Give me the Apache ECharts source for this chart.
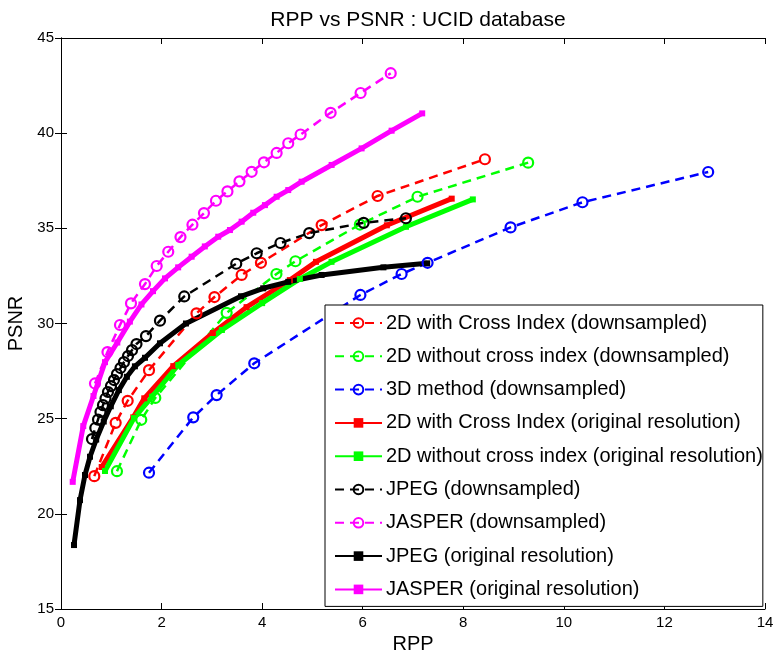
<!DOCTYPE html>
<html>
<head>
<meta charset="utf-8">
<script src="https://cdn.jsdelivr.net/npm/echarts@6/dist/echarts.min.js"></script>
<style>html,body{margin:0;padding:0;background:#fff}#c{width:774px;height:656px}</style>
</head>
<body>
<div id="c"></div>
<script>
// ---- data ----
const xTicks = [0, 2, 4, 6, 8, 10, 12, 14];
const yTicks = [15, 20, 25, 30, 35, 40, 45];

const crossDsRpp  = [0.662, 1.087, 1.326, 1.750, 2.694, 3.052, 3.592, 3.976, 5.183, 6.296, 8.43];
const crossDsPsnr = [21.98, 24.78, 25.94, 27.55, 30.53, 31.39, 32.55, 33.19, 35.17, 36.70, 38.63];

const noCrossDsRpp  = [1.113, 1.596, 1.875, 3.294, 4.284, 4.662, 5.944, 7.09, 9.29];
const noCrossDsPsnr = [22.24, 24.94, 26.09, 30.56, 32.60, 33.27, 35.20, 36.66, 38.45];

const d3DsRpp  = [1.750, 2.630, 3.095, 3.843, 5.954, 6.773, 7.290, 8.94, 10.37, 12.87];
const d3DsPsnr = [22.16, 25.07, 26.24, 27.91, 31.50, 32.60, 33.19, 35.05, 36.37, 37.96];

const crossOrRpp  = [0.809, 1.437, 1.656, 2.233, 3.02, 3.69, 4.55, 5.07, 6.48, 7.77];
const crossOrPsnr = [22.46, 25.07, 26.07, 27.76, 29.50, 30.86, 32.28, 33.24, 35.16, 36.56];

const noCrossOrRpp  = [0.875, 1.451, 1.809, 2.332, 3.20, 4.00, 4.75, 5.38, 6.86, 8.19];
const noCrossOrPsnr = [22.25, 25.03, 26.15, 27.82, 29.66, 31.07, 32.34, 33.24, 35.08, 36.52];

const jpegDsRpp  = [0.616, 0.682, 0.736, 0.785, 0.835, 0.885, 0.934, 0.994, 1.054, 1.113, 1.183, 1.252, 1.332, 1.412, 1.501, 1.690, 1.968, 2.451, 3.485, 3.891, 4.364, 4.936, 6.018, 6.859];
const jpegDsPsnr = [23.93, 24.51, 24.95, 25.35, 25.71, 26.06, 26.40, 26.71, 27.03, 27.34, 27.66, 27.97, 28.29, 28.60, 28.92, 29.34, 30.15, 31.42, 33.14, 33.69, 34.23, 34.75, 35.29, 35.53];

const jasperDsRpp  = [0.676, 0.924, 1.173, 1.392, 1.670, 1.903, 2.133, 2.376, 2.614, 2.843, 3.082, 3.310, 3.549, 3.791, 4.036, 4.288, 4.519, 4.765, 5.362, 5.958, 6.557];
const jasperDsPsnr = [26.85, 28.50, 29.92, 31.06, 32.07, 33.02, 33.77, 34.54, 35.19, 35.80, 36.45, 36.94, 37.47, 37.97, 38.47, 38.96, 39.47, 39.93, 41.07, 42.11, 43.15];

const jpegOrRpp  = [0.258, 0.378, 0.477, 0.577, 0.70, 0.85, 0.99, 1.15, 1.31, 1.47, 1.67, 1.968, 2.485, 3.579, 4.022, 4.519, 5.183, 6.412, 7.282];
const jpegOrPsnr = [18.36, 20.72, 22.04, 23.00, 23.90, 24.85, 25.65, 26.50, 27.20, 27.75, 28.20, 28.96, 30.00, 31.43, 31.85, 32.19, 32.55, 32.95, 33.16];

const jasperOrRpp  = [0.233, 0.443, 0.646, 0.875, 1.12, 1.37, 1.60, 1.83, 2.068, 2.33, 2.598, 2.86, 3.127, 3.36, 3.592, 3.823, 4.056, 4.288, 4.519, 4.785, 5.382, 5.978, 6.575, 7.183];
const jasperOrPsnr = [21.68, 24.61, 26.19, 27.97, 29.00, 30.10, 31.00, 31.70, 32.37, 32.95, 33.51, 34.05, 34.56, 34.91, 35.35, 35.82, 36.22, 36.66, 37.01, 37.45, 38.33, 39.20, 40.13, 41.04];

const seriesNames = [
  '2D with Cross Index (downsampled)',
  '2D without cross index (downsampled)',
  '3D method (downsampled)',
  '2D with Cross Index (original resolution)',
  '2D without cross index (original resolution)',
  'JPEG (downsampled)',
  'JASPER (downsampled)',
  'JPEG (original resolution)',
  'JASPER (original resolution)'
];

// ---- build ----
const FONT = 'Liberation Sans, Arial, Helvetica, sans-serif';
function zip(xs, ys) { return xs.map((x, i) => [x, ys[i]]); }
function dashed(name, xs, ys, color) {
  return {
    name, type: 'line', data: zip(xs, ys),
    symbol: 'circle', symbolSize: 10,
    lineStyle: { color, width: 2.5, type: [9, 6] },
    itemStyle: { color: 'rgba(255,255,255,0)', borderColor: color, borderWidth: 2.2 },
    emphasis: { disabled: true }, animation: false
  };
}
function solid(name, xs, ys, color) {
  return {
    name, type: 'line', data: zip(xs, ys),
    symbol: 'rect', symbolSize: 6,
    lineStyle: { color, width: 5, type: 'solid' },
    itemStyle: { color, borderWidth: 0 },
    emphasis: { disabled: true }, animation: false
  };
}

const series = [
  dashed(seriesNames[0], crossDsRpp, crossDsPsnr, '#ff0000'),
  dashed(seriesNames[1], noCrossDsRpp, noCrossDsPsnr, '#00ff00'),
  dashed(seriesNames[2], d3DsRpp, d3DsPsnr, '#0000ff'),
  solid(seriesNames[3], crossOrRpp, crossOrPsnr, '#ff0000'),
  solid(seriesNames[4], noCrossOrRpp, noCrossOrPsnr, '#00ff00'),
  dashed(seriesNames[5], jpegDsRpp, jpegDsPsnr, '#000000'),
  dashed(seriesNames[6], jasperDsRpp, jasperDsPsnr, '#ff00ff'),
  solid(seriesNames[7], jpegOrRpp, jpegOrPsnr, '#000000'),
  solid(seriesNames[8], jasperOrRpp, jasperOrPsnr, '#ff00ff')
];

const axisLine = { show: true, lineStyle: { color: '#000', width: 1 } };
const tickIn = { show: true, inside: true, length: 6, lineStyle: { color: '#000', width: 1 } };
const xMin = xTicks[0], xMax = xTicks[xTicks.length - 1], xStep = xTicks[1] - xTicks[0];
const yMin = yTicks[0], yMax = yTicks[yTicks.length - 1], yStep = yTicks[1] - yTicks[0];

const chart = echarts.init(document.getElementById('c'), null, { renderer: 'canvas' });
chart.setOption({
  animation: false,
  backgroundColor: '#fff',
  title: {
    text: 'RPP vs PSNR : UCID database',
    left: 413, top: 5, textAlign: 'center',
    textStyle: { fontFamily: FONT, fontSize: 21, fontWeight: 'normal', color: '#000' }
  },
  grid: { left: 61, right: 9, top: 38, bottom: 47, containLabel: false, outerBoundsMode: 'none' },
  xAxis: [
    {
      type: 'value', min: xMin, max: xMax, interval: xStep,
      name: 'RPP', nameLocation: 'middle', nameGap: 23,
      nameTextStyle: { fontFamily: FONT, fontSize: 20, color: '#000' },
      axisLine, axisTick: tickIn, splitLine: { show: false },
      axisLabel: { fontFamily: FONT, fontSize: 15, color: '#000', margin: 6 }
    },
    {
      type: 'value', position: 'top', min: xMin, max: xMax, interval: xStep,
      axisLine, axisTick: tickIn, splitLine: { show: false }, axisLabel: { show: false }
    }
  ],
  yAxis: [
    {
      type: 'value', min: yMin, max: yMax, interval: yStep,
      name: 'PSNR', nameLocation: 'middle', nameGap: 33, nameRotate: 90,
      nameTextStyle: { fontFamily: FONT, fontSize: 20, color: '#000' },
      axisLine, axisTick: tickIn, splitLine: { show: false },
      axisLabel: { fontFamily: FONT, fontSize: 15, color: '#000', margin: 7 }
    },
    {
      type: 'value', position: 'right', min: yMin, max: yMax, interval: yStep,
      axisLine, axisTick: tickIn, splitLine: { show: false }, axisLabel: { show: false }
    }
  ],
  legend: {
    data: seriesNames,
    orient: 'vertical',
    left: 325, top: 305,
    padding: [8, 0, 7, 9],
    itemGap: 13.3,
    itemWidth: 47, itemHeight: 12,
    backgroundColor: '#fff',
    borderColor: '#000', borderWidth: 1,
    selectedMode: false,
    textStyle: { fontFamily: FONT, fontSize: 20, color: '#000', padding: [0, 0, 0, -1], lineHeight: 20 }
  },
  series
});
</script>
</body>
</html>
